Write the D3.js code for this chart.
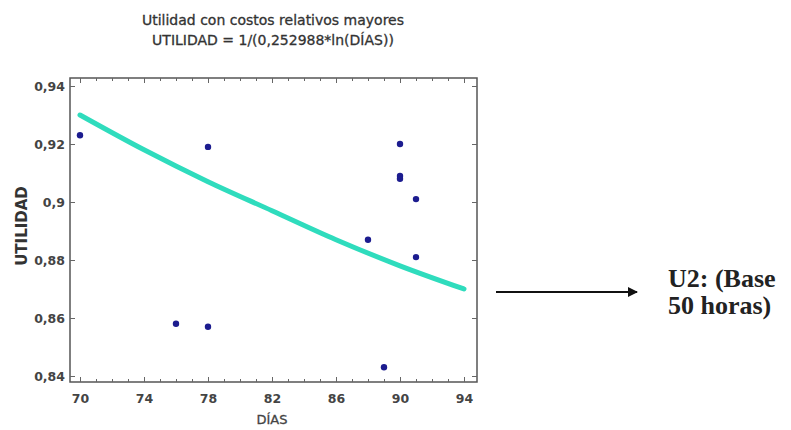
<!DOCTYPE html>
<html>
<head>
<meta charset="utf-8">
<script src="https://cdn.jsdelivr.net/npm/d3@7"></script>
<style>
  body { margin: 0; background: #fff; }
  svg { display: block; }
</style>
</head>
<body>
<div id="chart"></div>
<script>
// observed points (DIAS, UTILIDAD)
var dias = [70, 76, 78, 78, 88, 89, 90, 90, 90, 91, 91];
var utilidad = [0.923, 0.858, 0.919, 0.857, 0.887, 0.843, 0.920, 0.909, 0.908, 0.901, 0.881];

// fitted line
var fitDias = [70, 74, 78, 82, 86, 90, 94];
var fitUtilidad = [0.930, 0.918, 0.907, 0.897, 0.887, 0.878, 0.870];

var xTicks = [70, 74, 78, 82, 86, 90, 94];
var yTicks = [0.84, 0.86, 0.88, 0.9, 0.92, 0.94];

var titleLines = ["Utilidad con costos relativos mayores", "UTILIDAD = 1/(0,252988*ln(DÍAS))"];

var width = 791, height = 430;
var frame = {left: 70, right: 477, top: 78, bottom: 382};

var svg = d3.select("#chart").append("svg")
  .attr("width", width)
  .attr("height", height);

var x = d3.scaleLinear().domain([70, 94]).range([80, 464]);
var y = d3.scaleLinear().domain([0.84, 0.94]).range([376, 86]);

var fmt = function (d) { return d3.format("~g")(d).replace(".", ","); };

// title
svg.selectAll("text.title")
  .data(titleLines)
  .enter()
  .append("text")
  .attr("class", "title")
  .attr("x", 273)
  .attr("y", function (d, i) { return 25 + i * 20; })
  .attr("text-anchor", "middle")
  .attr("font-family", "DejaVu Sans, sans-serif")
  .attr("font-size", 14)
  .attr("fill", "#333")
  .attr("stroke", "#333")
  .attr("stroke-width", 0.3)
  .text(function (d) { return d; });

// frame
svg.append("rect")
  .attr("x", frame.left)
  .attr("y", frame.top)
  .attr("width", frame.right - frame.left)
  .attr("height", frame.bottom - frame.top)
  .attr("fill", "none")
  .attr("stroke", "#555")
  .attr("stroke-width", 1.5);

var minorX = d3.range(70, 95, 1);

// bottom axis
svg.append("g")
  .attr("transform", "translate(0," + frame.bottom + ")")
  .call(d3.axisBottom(x).tickValues(xTicks).tickSize(-5).tickPadding(12).tickFormat(d3.format("d")));
svg.append("g")
  .attr("transform", "translate(0," + frame.bottom + ")")
  .call(d3.axisBottom(x).tickValues(minorX).tickSize(-3).tickFormat(""));

// top axis
svg.append("g")
  .attr("transform", "translate(0," + frame.top + ")")
  .call(d3.axisTop(x).tickValues(xTicks).tickSize(-5).tickFormat(""));
svg.append("g")
  .attr("transform", "translate(0," + frame.top + ")")
  .call(d3.axisTop(x).tickValues(minorX).tickSize(-3).tickFormat(""));

// left axis
svg.append("g")
  .attr("transform", "translate(" + frame.left + ",0)")
  .call(d3.axisLeft(y).tickValues(yTicks).tickSize(-5).tickPadding(5).tickFormat(fmt));

// right axis
svg.append("g")
  .attr("transform", "translate(" + frame.right + ",0)")
  .call(d3.axisRight(y).tickValues(yTicks).tickSize(-5).tickFormat(""));

svg.selectAll(".domain").remove();
svg.selectAll(".tick line").attr("stroke", "#666");
svg.selectAll(".tick text")
  .attr("font-family", "DejaVu Sans, sans-serif")
  .attr("font-size", 12.5)
  .attr("font-weight", 700)
  .attr("fill", "#444");

// axis titles
svg.append("text")
  .attr("x", 272)
  .attr("y", 424)
  .attr("text-anchor", "middle")
  .attr("font-family", "DejaVu Sans, sans-serif")
  .attr("font-size", 13)
  .attr("fill", "#444")
  .attr("stroke", "#444")
  .attr("stroke-width", 0.3)
  .text("DÍAS");

svg.append("text")
  .attr("transform", "translate(27,226) rotate(-90)")
  .attr("text-anchor", "middle")
  .attr("font-family", "DejaVu Sans, sans-serif")
  .attr("font-size", 15)
  .attr("font-weight", 700)
  .attr("fill", "#333")
  .text("UTILIDAD");

// fitted curve
var fit = fitDias.map(function (d, i) { return [d, fitUtilidad[i]]; });
svg.append("path")
  .datum(fit)
  .attr("fill", "none")
  .attr("stroke", "#2fdcbd")
  .attr("stroke-width", 5)
  .attr("stroke-linecap", "round")
  .attr("d", d3.line()
    .x(function (d) { return x(d[0]); })
    .y(function (d) { return y(d[1]); })
    .curve(d3.curveMonotoneX));

// points
svg.selectAll("circle.pt")
  .data(dias)
  .enter()
  .append("circle")
  .attr("class", "pt")
  .attr("cx", function (d) { return x(d); })
  .attr("cy", function (d, i) { return y(utilidad[i]); })
  .attr("r", 3.2)
  .attr("fill", "#1c1c8f");

// arrow and note
svg.append("defs").append("marker")
  .attr("id", "head")
  .attr("viewBox", "0 0 10 10")
  .attr("refX", 9)
  .attr("refY", 5)
  .attr("markerWidth", 5)
  .attr("markerHeight", 5)
  .attr("orient", "auto")
  .append("path")
  .attr("d", "M0,0 L10,5 L0,10 Z")
  .attr("fill", "#111");

svg.append("line")
  .attr("x1", 496)
  .attr("y1", 292)
  .attr("x2", 637)
  .attr("y2", 292)
  .attr("stroke", "#111")
  .attr("stroke-width", 2)
  .attr("marker-end", "url(#head)");

svg.selectAll("text.note")
  .data(["U2: (Base", "50 horas)"])
  .enter()
  .append("text")
  .attr("class", "note")
  .attr("x", 668)
  .attr("y", function (d, i) { return 287 + i * 27; })
  .attr("font-family", "Liberation Serif, serif")
  .attr("font-size", 26)
  .attr("font-weight", 700)
  .attr("fill", "#222")
  .text(function (d) { return d; });
</script>
</body>
</html>
